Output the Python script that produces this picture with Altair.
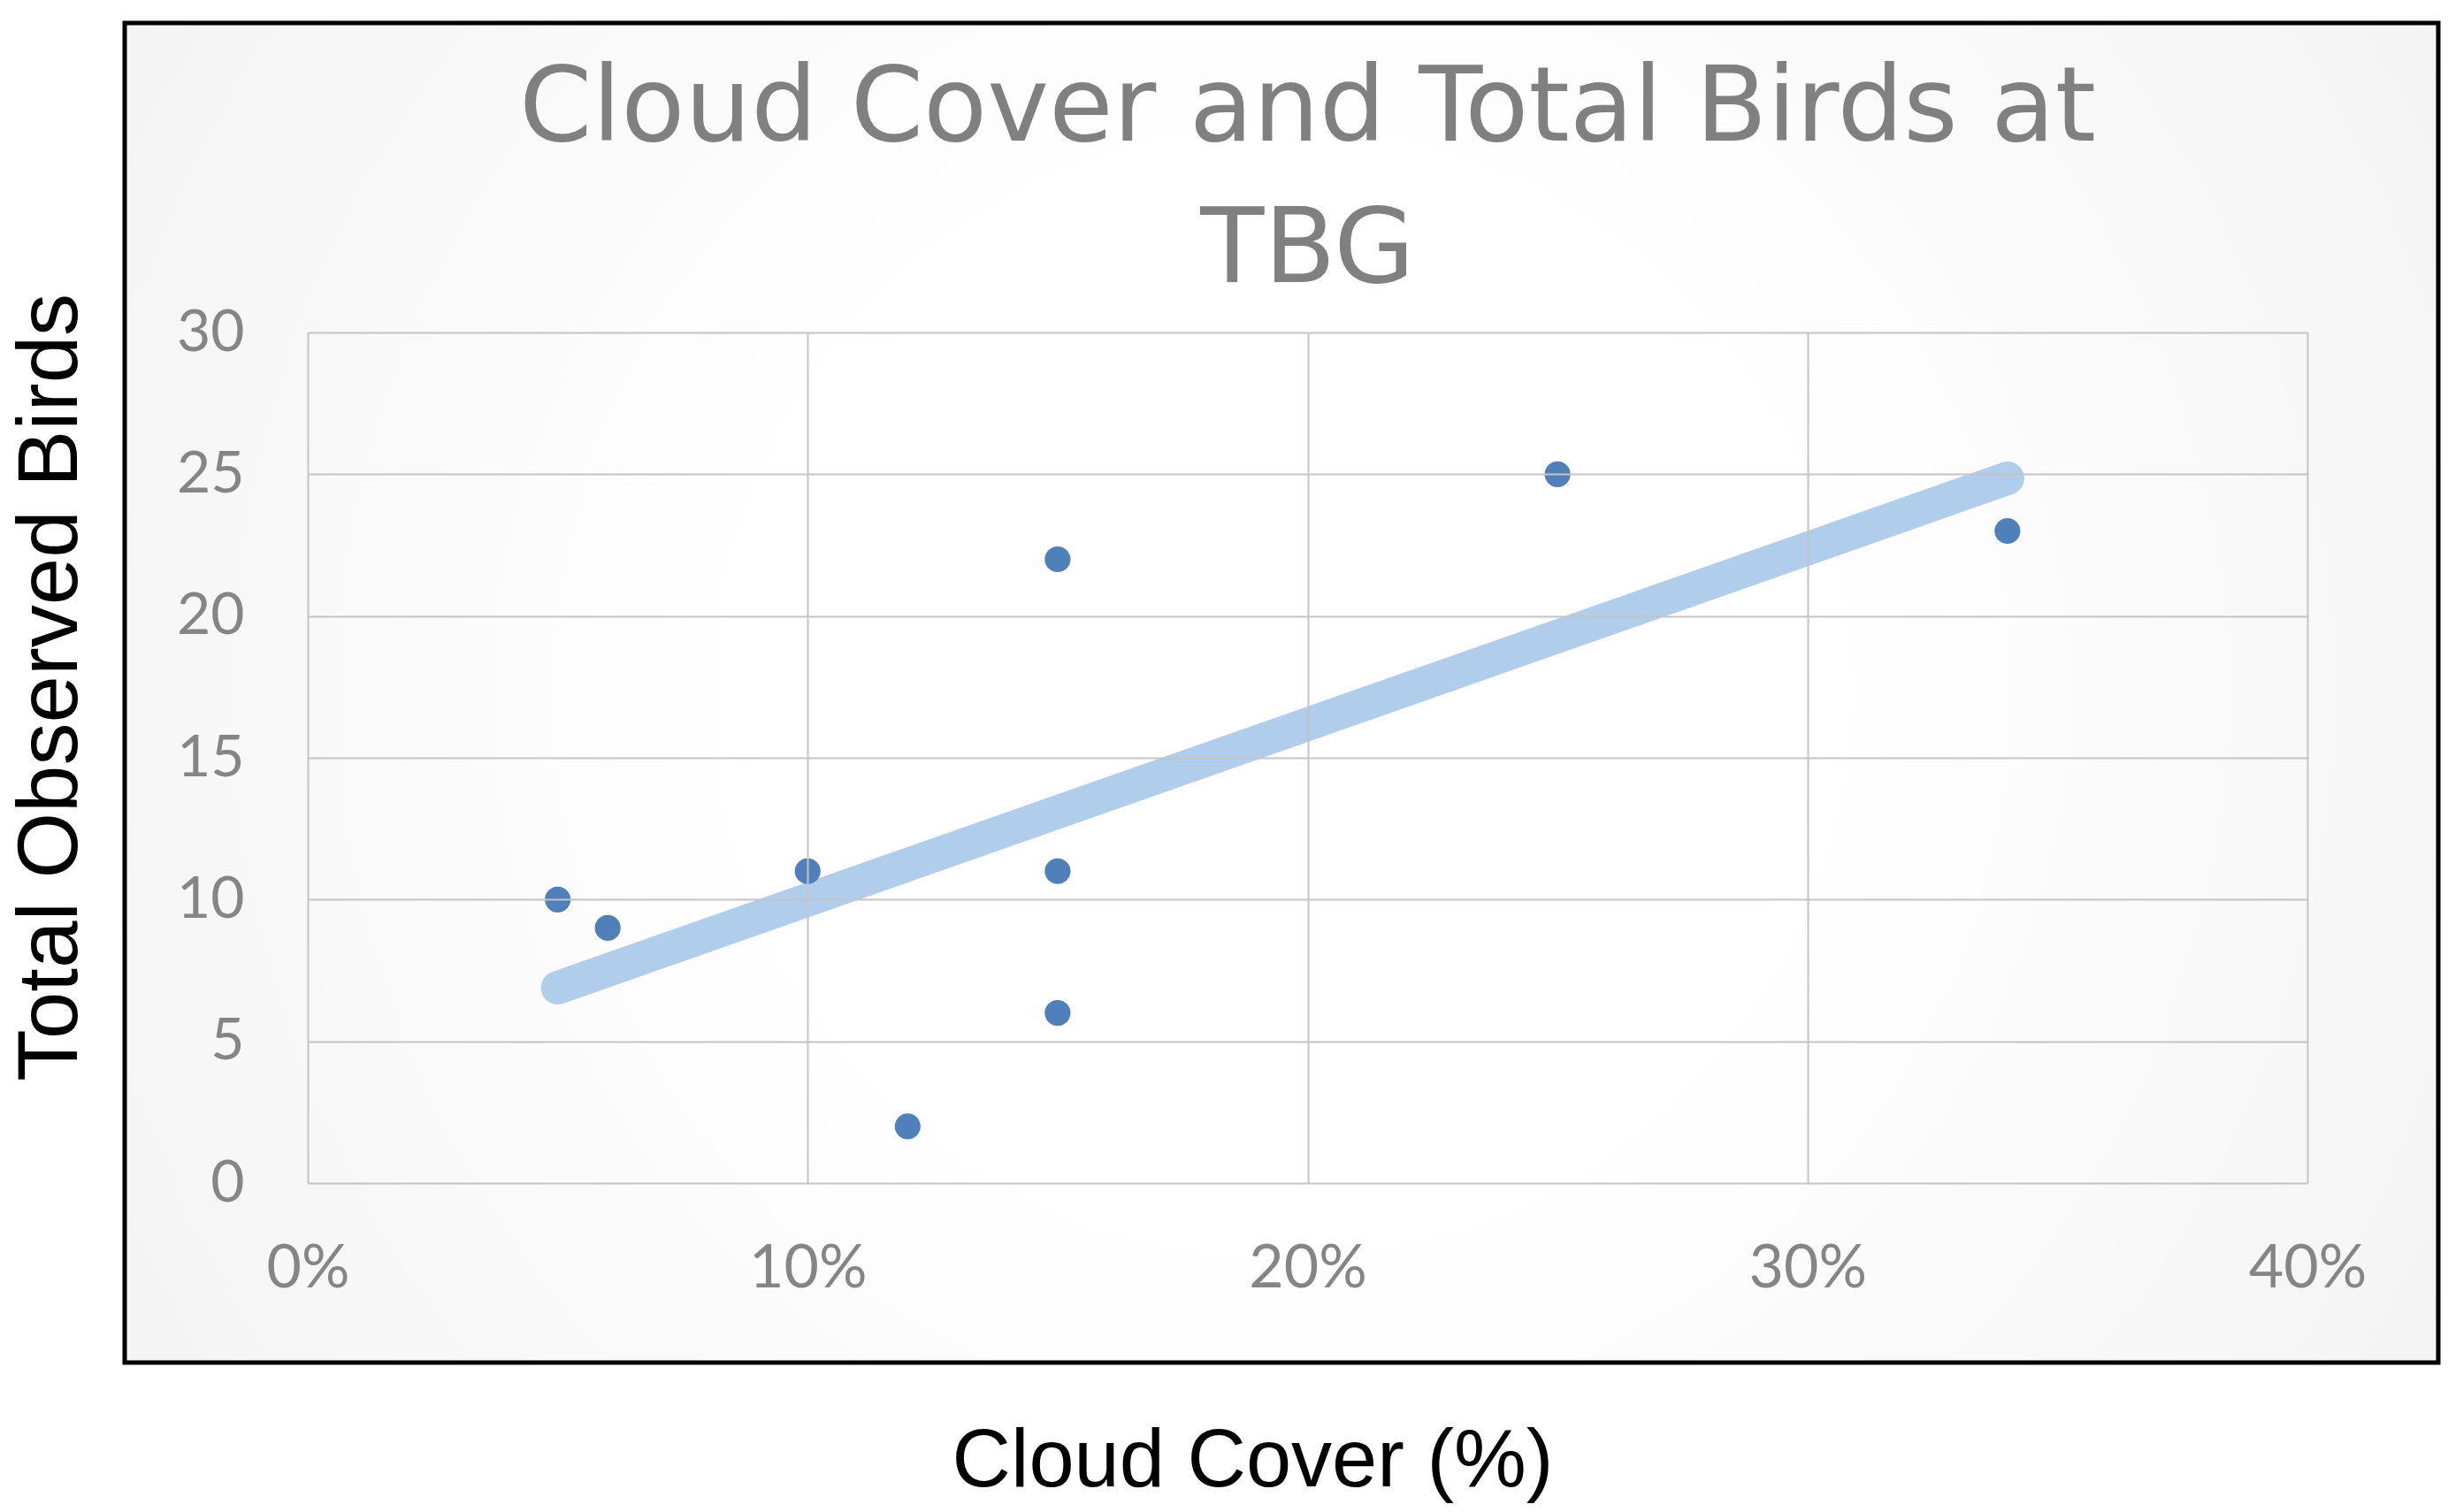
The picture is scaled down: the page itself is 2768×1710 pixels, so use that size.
import altair as alt
import pandas as pd

# Data
cloud_cover = [0.05, 0.06, 0.10, 0.12, 0.15, 0.15, 0.15, 0.25, 0.34]
total_birds = [10, 9, 11, 2, 22, 11, 6, 25, 23]
x_ticks = [0, 0.1, 0.2, 0.3, 0.4]
y_ticks = [0, 5, 10, 15, 20, 25, 30]
title_lines = ["Cloud Cover and Total Birds at", "TBG"]
x_title = "Cloud Cover (%)"
y_title = "Total Observed Birds"

df = pd.DataFrame({"cloud": cloud_cover, "birds": total_birds})

PLOT_W, PLOT_H = 2261, 962
LABEL_FONT = "Lato"
LABEL_COLOR = "#858585"

x_enc = alt.X(
    "cloud:Q",
    scale=alt.Scale(domain=[0, 0.4], nice=False, zero=False),
    axis=alt.Axis(
        values=x_ticks, format=".0%", ticks=False, domain=False, labelFlush=False,
        labelFont=LABEL_FONT, labelFontSize=68, labelColor=LABEL_COLOR, labelPadding=63,
        gridColor="#c4c4c4", gridWidth=2, zindex=1,
        title=x_title, titleFont="Liberation Sans", titleFontSize=92, titleFontWeight="normal",
        titleColor="black", titleX=1068, titleY=342, titleAlign="center",
        titleBaseline="alphabetic", titleAnchor="start",
    ),
)
y_enc = alt.Y(
    "birds:Q",
    scale=alt.Scale(domain=[0, 30], nice=False),
    axis=alt.Axis(
        values=y_ticks, ticks=False, domain=False, labelFlush=False,
        labelFont=LABEL_FONT, labelFontSize=66, labelColor=LABEL_COLOR, labelPadding=72,
        gridColor="#c4c4c4", gridWidth=2, zindex=1,
        title=y_title, titleFont="Liberation Sans", titleFontSize=96, titleFontWeight="normal",
        titleColor="black", titleX=-262, titleY=401, titleAngle=270, titleAlign="center",
        titleBaseline="alphabetic", titleAnchor="start",
    ),
)

gradient = alt.RadialGradient(
    gradient="radial",
    stops=[alt.GradientStop(color="#ffffff", offset=0),
           alt.GradientStop(color="#ffffff", offset=0.3),
           alt.GradientStop(color="#eeeeee", offset=1)],
    x1=0.5, y1=0.5, r1=0, x2=0.5, y2=0.5, r2=0.75,
)

frame = alt.Chart(pd.DataFrame({"d": [0]})).mark_rect(
    fill=gradient, stroke="black", strokeWidth=5
).encode(
    x=alt.value(-207), x2=alt.value(2409), y=alt.value(-350), y2=alt.value(1165)
)

trend = alt.Chart(df).transform_regression("cloud", "birds").mark_line(
    strokeWidth=38, color="#a9c8ea", strokeCap="round", opacity=0.9
).encode(x=x_enc, y=y_enc)

points = alt.Chart(df).mark_circle(size=850, color="#4f80ba", opacity=1).encode(
    x=x_enc, y=y_enc
)

chart = alt.layer(frame, trend, points).properties(
    width=PLOT_W,
    height=PLOT_H,
    title=alt.TitleParams(
        text=title_lines, font="DejaVu Sans", fontSize=118, fontWeight="normal",
        color="#808080", anchor="middle", frame="group", lineHeight=160, offset=-320,
    ),
    autosize=alt.AutoSizeParams(type="none"),
    padding={"left": 340, "top": 368, "right": 151, "bottom": 364},
).configure_view(stroke="#c4c4c4", strokeWidth=2)

chart.save("out.html", embed_options={"renderer": "svg", "actions": False})
